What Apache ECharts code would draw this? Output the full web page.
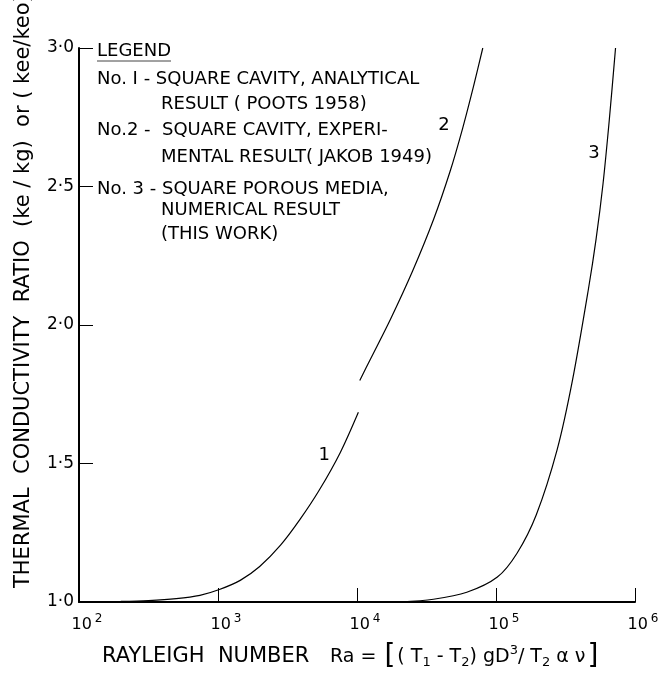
<!DOCTYPE html>
<html>
<head>
<meta charset="utf-8">
<script src="https://cdn.jsdelivr.net/npm/echarts@6/dist/echarts.min.js"></script>
<style>
html,body{margin:0;padding:0;background:#fff;}
#main{width:664px;height:676px;}
</style>
</head>
<body>
<div id="main"></div>
<script>
// Curve 1: square cavity, analytical (Poots 1958)
var curve1Ra = [100, 200, 316, 501, 741, 1023, 1445, 1995, 2818, 3890, 5370, 7586, 10230];
var curve1K  = [1.0, 1.002, 1.005, 1.012, 1.024, 1.045, 1.078, 1.128, 1.205, 1.298, 1.405, 1.54, 1.685];
// Curve 2: square cavity, experimental (Jakob 1949)
var curve2Ra = [10470, 12590, 17380, 25120, 35480, 46770, 57540, 69180, 80350];
var curve2K  = [1.80, 1.88, 2.02, 2.195, 2.38, 2.555, 2.71, 2.865, 3.0];
// Curve 3: square porous media, numerical (this work)
var curve3Ra = [20420, 35480, 61660, 102300, 141300, 195000, 275400, 354800, 462400, 524800, 588800, 653100, 724400];
var curve3K  = [1.0, 1.01, 1.035, 1.09, 1.175, 1.315, 1.55, 1.80, 2.13, 2.31, 2.51, 2.74, 3.0];
// Curve number labels [Ra, K, text]
var curveLabels = [[5800, 1.531, '1'], [42300, 2.722, '2'], [507000, 2.621, '3']];
// Tick labels
var yTickLabels = {'1': '1·0', '1.5': '1·5', '2': '2·0', '2.5': '2·5', '3': '3·0'};
var legendTitle = 'LEGEND';
var legendLines = [
  ['No. I - SQUARE CAVITY, ANALYTICAL', 0],
  ['RESULT ( POOTS 1958)', 1],
  ['No.2 -  SQUARE CAVITY, EXPERI-', 0],
  ['MENTAL RESULT( JAKOB 1949)', 1],
  ['No. 3 - SQUARE POROUS MEDIA,', 0],
  ['NUMERICAL RESULT', 1],
  ['(THIS WORK)', 1]
];
var yTitle = 'THERMAL  CONDUCTIVITY  RATIO  (ke / kg)  or ( kee/keo)';

function zip(a, b) { return a.map(function (v, i) { return [v, b[i]]; }); }

var FONT = 'DejaVu Sans';
var chart = echarts.init(document.getElementById('main'), null, {renderer: 'canvas'});

var lineStyle = {color: '#000', width: 1.2};
function curve(name, data) {
  return {
    name: name, type: 'line', data: data, smooth: 0.3,
    showSymbol: false, symbol: 'none', lineStyle: lineStyle, silent: true, z: 3
  };
}

var series = [
  curve('No. 1', zip(curve1Ra, curve1K)),
  curve('No. 2', zip(curve2Ra, curve2K)),
  curve('No. 3', zip(curve3Ra, curve3K)),
  {
    type: 'scatter', symbolSize: 0, silent: true, itemStyle: {color: 'rgba(0,0,0,0)', opacity: 1},
    data: curveLabels.map(function (d) { return {value: [d[0], d[1]], name: d[2]}; }),
    label: {show: true, position: 'inside', formatter: function (p) { return p.name; },
      color: '#000', opacity: 1, textBorderWidth: 0, fontFamily: FONT, fontSize: 18}
  }
];

var legendY = [79, 104, 130, 157, 189, 210, 234];
var graphics = [
  {type: 'text', x: 97, y: 51, style: {text: legendTitle, fontFamily: FONT, fontSize: 18, fill: '#000', verticalAlign: 'middle'}},
  {type: 'line', shape: {x1: 97, y1: 61, x2: 171, y2: 61}, style: {stroke: '#444', lineWidth: 1}},
  {
    type: 'text', x: 24, y: 588, rotation: Math.PI / 2,
    style: {text: yTitle, fontFamily: FONT, fontSize: 21, fill: '#000', align: 'left', verticalAlign: 'middle'}
  },
  {
    type: 'text', x: 102, y: 657,
    style: {text: 'RAYLEIGH  NUMBER', fontFamily: FONT, fontSize: 21, fill: '#000', align: 'left', verticalAlign: 'middle'}
  },
  {
    type: 'text', x: 330, y: 657,
    style: {
      text: 'Ra = {b|[}( T{sub|1} - T{sub|2}) gD{sup|3}/ T{sub|2} α ν{b|]}',
      fontFamily: FONT, fontSize: 19, fill: '#000', align: 'left', verticalAlign: 'middle',
      rich: {
        sub: {fontSize: 13, fontFamily: FONT, padding: [12, 0, 0, 0]},
        sup: {fontSize: 13, fontFamily: FONT, padding: [0, 0, 12, 0]},
        b: {fontSize: 28, fontFamily: FONT, padding: [0, 2, 0, 2]}
      }
    }
  }
];
legendLines.forEach(function (l, i) {
  graphics.push({type: 'text', x: l[1] ? 161 : 97, y: legendY[i],
    style: {text: l[0], fontFamily: FONT, fontSize: 18, fill: '#000', verticalAlign: 'middle'}});
});

chart.setOption({
  backgroundColor: '#fff',
  animation: false,
  grid: {left: 79, right: 29, top: 48, bottom: 74, containLabel: false},
  xAxis: {
    type: 'log', logBase: 10, min: 100, max: 1000000,
    axisLine: {show: true, lineStyle: {color: '#000', width: 2}},
    axisTick: {show: true, inside: true, length: 14, lineStyle: {color: '#000', width: 1}},
    minorTick: {show: false},
    splitLine: {show: false},
    axisLabel: {
      margin: 11, color: '#000', fontFamily: FONT, fontSize: 16, padding: [0, 0, 0, 16],
      formatter: function (v) { return '10{sup|' + Math.round(Math.log10(v)) + '}'; },
      rich: {sup: {fontSize: 12, fontFamily: FONT, color: '#000', padding: [0, 0, 12, 3]}}
    }
  },
  yAxis: {
    type: 'value', min: 1, max: 3, interval: 0.5,
    axisLine: {show: true, lineStyle: {color: '#000', width: 2}},
    axisTick: {show: true, inside: true, length: 14, lineStyle: {color: '#000', width: 1}},
    splitLine: {show: false},
    axisLabel: {
      margin: 5, color: '#000', fontFamily: FONT, fontSize: 17,
      formatter: function (v) { return yTickLabels[String(v)] || ''; }
    }
  },
  series: series,
  graphic: graphics
});
</script>
</body>
</html>
